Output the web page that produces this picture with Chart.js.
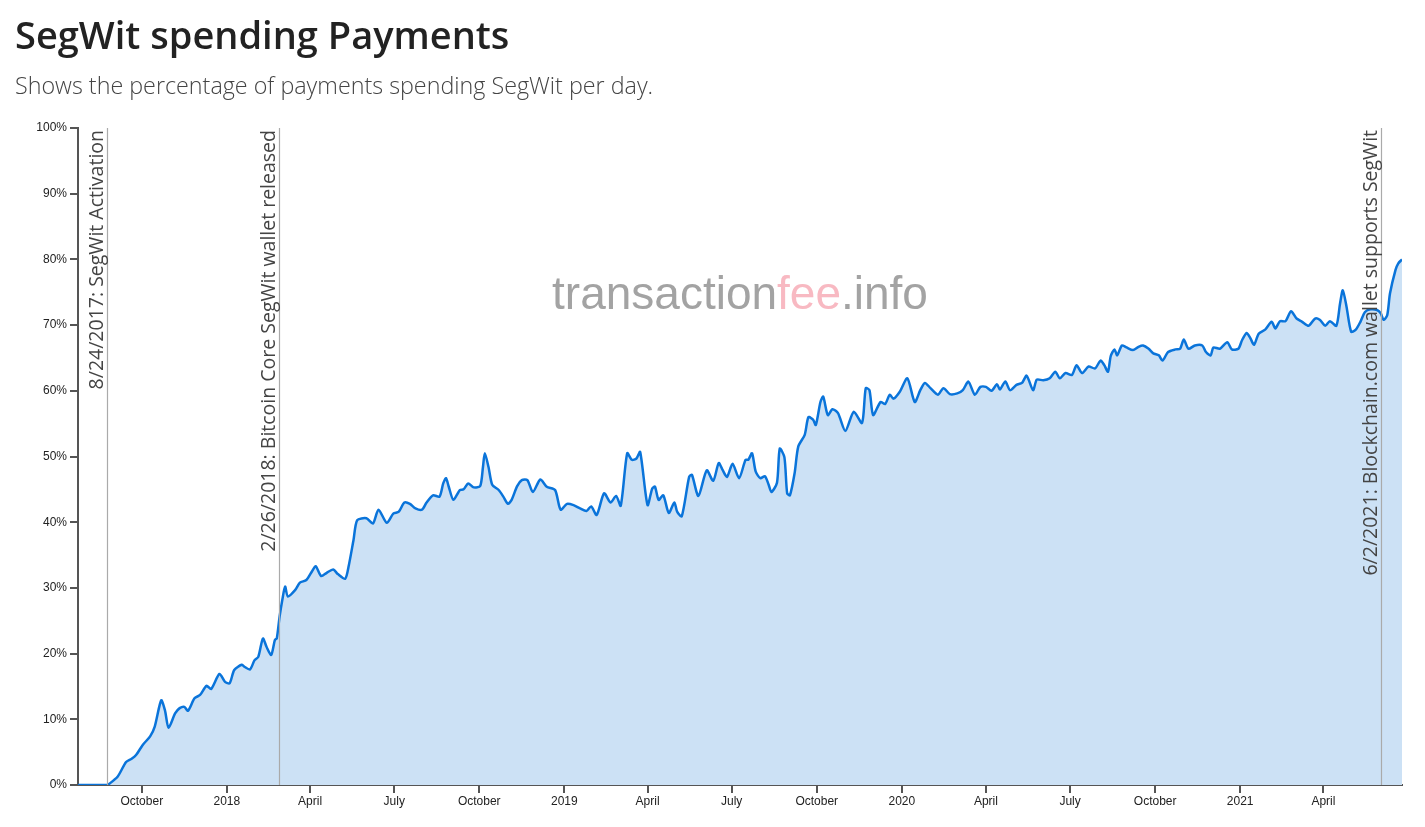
<!DOCTYPE html>
<html>
<head>
<meta charset="utf-8">
<title>SegWit spending Payments</title>
<script src="https://cdn.jsdelivr.net/npm/chart.js@4.4.1/dist/chart.umd.min.js"></script>
<style>
  html, body { margin: 0; padding: 0; background: #fff; }
  body { width: 1425px; height: 827px; position: relative; overflow: hidden; }
  h1 {
    position: absolute; left: 15px; top: 8px; margin: 0;
    font-family: "Open Sans", sans-serif; font-weight: 600; font-size: 38px;
    color: #222; letter-spacing: 0;
  }
  p.sub {
    position: absolute; left: 15px; top: 69px; margin: 0;
    font-family: "Open Sans", sans-serif; font-weight: 300; font-size: 23.3px;
    color: #444;
  }
  #wrap { position: absolute; left: 0; top: 0; width: 1425px; height: 827px; }
</style>
</head>
<body>
<div id="wrap"><canvas id="segwitChart"></canvas></div>
<h1>SegWit spending Payments</h1>
<p class="sub">Shows the percentage of payments spending SegWit per day.</p>

<script>
// values (percent of payments spending SegWit)
const dates = [
    '2017-07-24', '2017-08-24', '2017-08-27', '2017-09-05', '2017-09-14', '2017-09-20', '2017-09-25',
    '2017-10-02', '2017-10-10', '2017-10-15', '2017-10-22', '2017-10-26', '2017-10-30', '2017-11-06',
    '2017-11-11', '2017-11-16', '2017-11-20', '2017-11-27', '2017-12-03', '2017-12-10', '2017-12-15',
    '2017-12-24', '2017-12-30', '2018-01-04', '2018-01-09', '2018-01-17', '2018-01-20', '2018-01-26',
    '2018-01-31', '2018-02-04', '2018-02-09', '2018-02-13', '2018-02-18', '2018-02-22', '2018-02-24',
    '2018-02-27', '2018-03-02', '2018-03-05', '2018-03-08', '2018-03-16', '2018-03-21', '2018-03-28',
    '2018-04-03', '2018-04-07', '2018-04-13', '2018-04-19', '2018-04-26', '2018-05-01', '2018-05-09',
    '2018-05-13', '2018-05-18', '2018-05-22', '2018-06-01', '2018-06-08', '2018-06-14', '2018-06-23',
    '2018-06-30', '2018-07-06', '2018-07-12', '2018-07-18', '2018-07-24', '2018-07-31', '2018-08-05',
    '2018-08-12', '2018-08-19', '2018-08-23', '2018-08-26', '2018-08-29', '2018-09-03', '2018-09-10',
    '2018-09-14', '2018-09-19', '2018-09-25', '2018-10-02', '2018-10-05', '2018-10-07', '2018-10-11',
    '2018-10-15', '2018-10-22', '2018-10-27', '2018-11-01', '2018-11-05', '2018-11-11', '2018-11-16',
    '2018-11-22', '2018-11-28', '2018-12-06', '2018-12-13', '2018-12-22', '2018-12-28', '2019-01-04',
    '2019-01-11', '2019-01-18', '2019-01-25', '2019-01-30', '2019-02-05', '2019-02-13', '2019-02-20',
    '2019-02-26', '2019-03-03', '2019-03-10', '2019-03-15', '2019-03-20', '2019-03-24', '2019-04-01',
    '2019-04-06', '2019-04-09', '2019-04-13', '2019-04-18', '2019-04-24', '2019-04-30', '2019-05-03',
    '2019-05-08', '2019-05-16', '2019-05-19', '2019-05-26', '2019-06-04', '2019-06-11', '2019-06-17',
    '2019-06-21', '2019-06-26', '2019-07-02', '2019-07-09', '2019-07-16', '2019-07-19', '2019-07-23',
    '2019-07-27', '2019-08-01', '2019-08-06', '2019-08-10', '2019-08-13', '2019-08-19', '2019-08-22',
    '2019-08-27', '2019-08-30', '2019-09-02', '2019-09-07', '2019-09-11', '2019-09-18', '2019-09-22',
    '2019-09-27', '2019-09-30', '2019-10-05', '2019-10-08', '2019-10-13', '2019-10-18', '2019-10-24',
    '2019-11-01', '2019-11-10', '2019-11-19', '2019-11-23', '2019-11-27', '2019-12-01', '2019-12-09',
    '2019-12-14', '2019-12-19', '2019-12-23', '2019-12-30', '2020-01-07', '2020-01-15', '2020-01-21',
    '2020-01-26', '2020-02-01', '2020-02-09', '2020-02-15', '2020-02-22', '2020-03-01', '2020-03-07',
    '2020-03-13', '2020-03-20', '2020-03-26', '2020-04-01', '2020-04-07', '2020-04-13', '2020-04-16',
    '2020-04-22', '2020-04-27', '2020-05-04', '2020-05-10', '2020-05-15', '2020-05-22', '2020-05-26',
    '2020-06-02', '2020-06-09', '2020-06-15', '2020-06-20', '2020-06-26', '2020-07-03', '2020-07-08',
    '2020-07-14', '2020-07-21', '2020-07-28', '2020-08-03', '2020-08-07', '2020-08-11', '2020-08-14',
    '2020-08-18', '2020-08-21', '2020-08-26', '2020-08-31', '2020-09-07', '2020-09-13', '2020-09-18',
    '2020-09-24', '2020-09-29', '2020-10-05', '2020-10-09', '2020-10-15', '2020-10-23', '2020-10-28',
    '2020-11-01', '2020-11-06', '2020-11-13', '2020-11-21', '2020-11-25', '2020-11-30', '2020-12-03',
    '2020-12-10', '2020-12-18', '2020-12-23', '2020-12-30', '2021-01-03', '2021-01-08', '2021-01-12',
    '2021-01-16', '2021-01-21', '2021-01-28', '2021-02-04', '2021-02-08', '2021-02-13', '2021-02-19',
    '2021-02-25', '2021-03-03', '2021-03-09', '2021-03-16', '2021-03-23', '2021-03-28', '2021-04-03',
    '2021-04-08', '2021-04-15', '2021-04-19', '2021-04-22', '2021-04-26', '2021-05-01', '2021-05-06',
    '2021-05-11', '2021-05-16', '2021-05-22', '2021-05-29', '2021-06-02', '2021-06-05', '2021-06-09',
    '2021-06-12', '2021-06-18', '2021-06-21', '2021-06-25'
];

const segwitPct = [
    0, 0, 0.2, 1.3, 3.5, 4.0, 4.6,
    6.1, 7.4, 8.9, 12.9, 11.4, 8.7, 10.9,
    11.7, 11.9, 11.3, 13.2, 13.7, 15.1, 14.6,
    16.9, 15.7, 15.5, 17.5, 18.3, 18.0, 17.6,
    19.0, 19.5, 22.3, 21.0, 19.8, 22.1, 22.3,
    25.6, 28.2, 30.2, 28.7, 29.7, 30.8, 31.2,
    32.5, 33.3, 31.8, 32.3, 32.8, 32.1, 31.4,
    33.5, 37.3, 40.3, 40.6, 39.8, 41.9, 39.9,
    41.3, 41.6, 43.0, 42.8, 42.1, 41.9, 43.0,
    44.1, 43.9, 45.9, 46.7, 45.4, 43.4, 44.9,
    45.0, 45.9, 45.3, 45.5, 48.4, 50.5, 48.4,
    45.7, 44.9, 43.9, 42.8, 43.4, 45.5, 46.4,
    46.4, 44.6, 46.5, 45.4, 44.9, 41.9, 42.8,
    42.6, 42.1, 41.7, 42.4, 41.1, 44.4, 43.0,
    44.0, 42.5, 50.5, 49.5, 49.7, 50.7, 42.6,
    45.1, 45.4, 43.4, 44.1, 41.4, 43.0, 41.6,
    40.9, 46.9, 47.2, 44.0, 47.9, 46.3, 49.0,
    48.0, 46.9, 48.9, 46.7, 49.5, 49.5, 50.5,
    47.7, 46.7, 47.0, 45.7, 44.6, 46.0, 51.2,
    49.9, 44.4, 44.1, 47.4, 51.5, 53.3, 56.0,
    55.6, 54.8, 58.3, 59.1, 56.3, 57.2, 56.6,
    53.9, 56.8, 55.1, 60.4, 60.1, 56.3, 58.3,
    58.0, 59.4, 58.8, 59.9, 61.9, 58.3, 60.1,
    61.2, 60.4, 59.4, 60.4, 59.5, 59.6, 60.1,
    61.4, 59.4, 60.6, 60.6, 60.0, 61.0, 60.2,
    61.4, 60.1, 60.9, 61.2, 62.3, 60.1, 61.7,
    61.6, 61.9, 62.9, 61.9, 62.7, 62.4, 63.9,
    62.7, 63.7, 63.4, 64.6, 63.9, 62.9, 65.3,
    66.3, 65.4, 66.9, 66.6, 66.2, 66.7, 66.9,
    66.4, 65.7, 65.4, 64.6, 65.9, 66.3, 66.4,
    67.8, 66.4, 66.9, 66.9, 65.9, 65.4, 66.6,
    66.4, 67.4, 66.3, 66.4, 67.7, 68.8, 68.0,
    67.0, 68.7, 69.3, 70.5, 69.5, 70.6, 70.6,
    72.1, 71.0, 70.5, 69.9, 71.0, 70.8, 69.9,
    70.6, 69.9, 73.3, 75.3, 72.8, 69.0, 69.3,
    70.5, 72.0, 72.4, 72.3, 71.8, 70.8, 71.5,
    74.8, 78.4, 79.4, 80.0
];

// x axis ticks
const tickDates = ['2017-10-01', '2018-01-01', '2018-04-01', '2018-07-01', '2018-10-01', '2019-01-01',
    '2019-04-01', '2019-07-01', '2019-10-01', '2020-01-01', '2020-04-01', '2020-07-01', '2020-10-01',
    '2021-01-01', '2021-04-01'];
const tickLabels = ['October', '2018', 'April', 'July', 'October', '2019', 'April', 'July', 'October',
    '2020', 'April', 'July', 'October', '2021', 'April'];

// events marked with vertical lines
const eventDates = ['2017-08-24', '2018-02-26', '2021-06-02'];
const eventLabels = ['8/24/2017: SegWit Activation', '2/26/2018: Bitcoin Core SegWit wallet released',
    '6/2/2021: Blockchain.com wallet supports SegWit'];

const rangeStart = '2017-07-24';
const rangeEnd = '2021-06-25';

function ts(d) {
    const p = d.split('-');
    return Date.UTC(+p[0], +p[1] - 1, +p[2]);
}

const points = dates.map((d, i) => ({ x: ts(d), y: segwitPct[i] }));

const eventsPlugin = {
    id: 'events',
    beforeDatasetsDraw(chart) {
        // watermark
        const ctx = chart.ctx;
        const area = chart.chartArea;
        const cx = (area.left + area.right) / 2;
        const cy = area.top + (area.bottom - area.top) * 0.25 + 4;
        ctx.save();
        ctx.font = '46px "Liberation Sans", Arial, sans-serif';
        ctx.textBaseline = 'middle';
        const parts = [['transaction', '#a3a3a3'], ['fee', '#f8b9c2'], ['.info', '#a3a3a3']];
        const total = parts.reduce((s, p) => s + ctx.measureText(p[0]).width, 0);
        let x = cx - total / 2;
        parts.forEach(p => {
            ctx.fillStyle = p[1];
            ctx.fillText(p[0], x, cy);
            x += ctx.measureText(p[0]).width;
        });
        ctx.restore();
    },
    afterDatasetsDraw(chart) {
        const ctx = chart.ctx;
        const area = chart.chartArea;
        const xs = chart.scales.x;
        ctx.save();
        eventDates.forEach((d, i) => {
            const px = Math.round(xs.getPixelForValue(ts(d))) + 0.5;
            ctx.strokeStyle = '#aaaaaa';
            ctx.lineWidth = 1.2;
            ctx.beginPath();
            ctx.moveTo(px, area.top);
            ctx.lineTo(px, area.bottom);
            ctx.stroke();

            ctx.save();
            ctx.translate(px - 5, area.top + 2);
            ctx.rotate(-Math.PI / 2);
            ctx.font = '19.5px "Open Sans", sans-serif';
            ctx.fillStyle = '#444';
            ctx.textAlign = 'right';
            ctx.textBaseline = 'alphabetic';
            ctx.fillText(eventLabels[i], 0, 0);
            ctx.restore();
        });
        ctx.restore();
    }
};

const ctx = document.getElementById('segwitChart').getContext('2d');
const segwitChart = new Chart(ctx, {
    type: 'line',
    data: {
        datasets: [{
            label: 'SegWit spending payments',
            data: points,
            borderColor: '#0a74da',
            backgroundColor: '#cce1f5',
            borderWidth: 2.5,
            fill: 'origin',
            pointRadius: 0,
            tension: 0.25
        }]
    },
    options: {
        responsive: true,
        maintainAspectRatio: false,
        animation: false,
        layout: { padding: { top: 128, right: 23, left: 0, bottom: 0 } },
        plugins: {
            legend: { display: false },
            tooltip: { enabled: false }
        },
        scales: {
            x: {
                type: 'linear',
                min: ts(rangeStart),
                max: ts(rangeEnd),
                afterFit(scale) { scale.height = 42; },
                afterBuildTicks(scale) {
                    scale.ticks = tickDates.map(d => ({ value: ts(d) }));
                },
                grid: { drawOnChartArea: false, drawTicks: true, tickLength: 8, color: '#555', lineWidth: 2 },
                border: { display: true, color: '#555', width: 2 },
                ticks: {
                    autoSkip: false,
                    maxRotation: 0,
                    padding: 1,
                    color: '#222',
                    font: { family: '"Liberation Sans", Arial, sans-serif', size: 12 },
                    callback: (v, i) => tickLabels[i]
                }
            },
            y: {
                min: 0,
                max: 100,
                afterFit(scale) { scale.width = 78; },
                grid: { drawOnChartArea: false, drawTicks: true, tickLength: 8, color: '#555', lineWidth: 2 },
                border: { display: true, color: '#555', width: 2 },
                ticks: {
                    stepSize: 10,
                    padding: 3,
                    color: '#222',
                    font: { family: '"Liberation Sans", Arial, sans-serif', size: 12 },
                    callback: v => v + '%'
                }
            }
        }
    },
    plugins: [eventsPlugin]
});
</script>
</body>
</html>
